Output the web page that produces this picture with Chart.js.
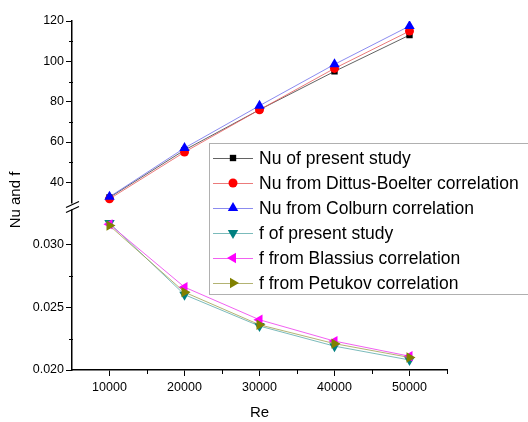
<!DOCTYPE html>
<html>
<head>
<meta charset="utf-8">
<script src="https://cdn.jsdelivr.net/npm/chart.js@4/dist/chart.umd.min.js"></script>
<style>
  html, body { margin: 0; padding: 0; background: #fff; }
  #wrap { width: 528px; height: 422px; position: relative; }
</style>
</head>
<body>
<div id="wrap"><canvas id="myChart" width="528" height="422"></canvas></div>
<script>
"use strict";

// Reynolds numbers (x axis)
const reValues = [10000, 20000, 30000, 40000, 50000];

// Nusselt number series (upper part of the axis)
const nuPresent = [32.5, 56, 76, 95, 113];
const nuDittus = [31.8, 55, 76, 96.5, 115];
const nuColburn = [32.8, 57, 78, 98.5, 117.5];

// friction factor series (lower part of the axis)
const fPresent = [0.0317, 0.0260, 0.0235, 0.0219, 0.0208];
const fBlassius = [0.0316, 0.0266, 0.0240, 0.0223, 0.0211];
const fPetukov = [0.0315, 0.0262, 0.0236, 0.0221, 0.0210];

const xTicks = [10000, 20000, 30000, 40000, 50000];
const nuTicks = [40, 60, 80, 100, 120];
const fTicks = [0.020, 0.025, 0.030];

const xMinor = [15000, 25000, 35000, 45000, 55000];
const nuMinor = [50, 70, 90, 110];
const fMinor = [0.0225, 0.0275];

const FONT = 'Liberation Sans, Arial, sans-serif';

function pts(values) {
    return values.map((v, i) => ({x: reValues[i], y: v}));
}

function series(label, values, axis, marker, lineColor, style, rotation, radius, order) {
    return {
        label: label,
        data: pts(values),
        yAxisID: axis,
        order: order,
        borderColor: lineColor,
        borderWidth: 1,
        backgroundColor: marker,
        pointBackgroundColor: marker,
        pointBorderColor: marker,
        pointBorderWidth: 0,
        pointStyle: style,
        pointRotation: rotation,
        pointRadius: radius,
        pointHoverRadius: radius,
        tension: 0
    };
}

// later series are drawn on top, as in the original plot
const datasets = [
    series('Nu of present study', nuPresent, 'yNu', '#000000', 'rgba(60,60,60,0.8)', 'rect', 0, 4.5, 6),
    series('Nu from Dittus-Boelter correlation', nuDittus, 'yNu', '#ff0000', 'rgba(230,90,90,0.8)', 'circle', 0, 4.5, 5),
    series('Nu from Colburn correlation', nuColburn, 'yNu', '#0000ff', 'rgba(110,110,235,0.8)', 'triangle', 0, 6, 4),
    series('f of present study', fPresent, 'yF', '#008080', 'rgba(90,170,170,0.8)', 'triangle', 180, 6, 3),
    series('f from Blassius correlation', fBlassius, 'yF', '#ff00ff', 'rgba(240,80,240,0.9)', 'triangle', -90, 6, 2),
    series('f from Petukov correlation', fPetukov, 'yF', '#808000', 'rgba(160,160,80,0.8)', 'triangle', 90, 6, 1)
];

// minor ticks, axis break, axis title and boxed legend
const decorPlugin = {
    id: 'decor',
    afterDraw(chart) {
        const ctx = chart.ctx;
        const area = chart.chartArea;
        const sx = chart.scales.x;
        const sNu = chart.scales.yNu;
        const sF = chart.scales.yF;

        ctx.save();
        ctx.strokeStyle = '#000';
        ctx.lineWidth = 1;
        ctx.beginPath();
        xMinor.forEach(v => {
            const px = Math.round(sx.getPixelForValue(v)) + 0.5;
            ctx.moveTo(px, area.bottom);
            ctx.lineTo(px, area.bottom + 4);
        });
        nuMinor.forEach(v => {
            const py = Math.round(sNu.getPixelForValue(v)) + 0.5;
            ctx.moveTo(area.left - 3, py);
            ctx.lineTo(area.left + 1, py);
        });
        fMinor.forEach(v => {
            const py = Math.round(sF.getPixelForValue(v)) + 0.5;
            ctx.moveTo(area.left - 3, py);
            ctx.lineTo(area.left + 1, py);
        });
        ctx.stroke();

        // axis break
        const yb = sNu.bottom;
        ctx.fillStyle = '#fff';
        ctx.fillRect(area.left - 3, yb - 2, 6, 6);
        ctx.lineWidth = 1.3;
        ctx.beginPath();
        ctx.moveTo(area.left - 6, yb + 2);
        ctx.lineTo(area.left + 7, yb - 4);
        ctx.moveTo(area.left - 6, yb + 7);
        ctx.lineTo(area.left + 7, yb + 1);
        ctx.stroke();

        // y title
        ctx.fillStyle = '#000';
        ctx.font = '15px ' + FONT;
        ctx.textAlign = 'center';
        ctx.textBaseline = 'middle';
        ctx.translate(16, 200);
        ctx.rotate(-Math.PI / 2);
        ctx.fillText('Nu and f', 0, 0);
        ctx.restore();

        // legend
        ctx.save();
        const bx = 209, by = 143, bw = 330, bh = 151;
        ctx.fillStyle = '#fff';
        ctx.fillRect(bx, by, bw, bh);
        ctx.strokeStyle = '#b0b0b0';
        ctx.lineWidth = 1;
        ctx.strokeRect(bx + 0.5, by + 0.5, bw, bh);
        ctx.font = '17.5px ' + FONT;
        ctx.textAlign = 'left';
        ctx.textBaseline = 'middle';
        chart.data.datasets.forEach((ds, i) => {
            const ry = by + 15 + i * 25;
            ctx.strokeStyle = ds.borderColor;
            ctx.lineWidth = 1;
            ctx.beginPath();
            ctx.moveTo(bx + 4, ry + 0.5);
            ctx.lineTo(bx + 44, ry + 0.5);
            ctx.stroke();
            ctx.fillStyle = ds.pointBackgroundColor;
            ctx.strokeStyle = ds.pointBorderColor;
            Chart.helpers.drawPoint(ctx, {
                pointStyle: ds.pointStyle,
                rotation: ds.pointRotation,
                radius: ds.pointRadius,
                borderWidth: 0
            }, bx + 24, ry);
            ctx.fillStyle = '#000';
            ctx.fillText(ds.label, bx + 50, ry + 1);
        });
        ctx.restore();
    }
};

const tickFont = {family: FONT, size: 12.5};

const chart = new Chart(document.getElementById('myChart'), {
    type: 'line',
    data: {datasets: datasets},
    options: {
        responsive: false,
        animation: false,
        events: [],
        layout: {padding: {top: 21, right: 81, bottom: 0, left: 0}},
        plugins: {legend: {display: false}, tooltip: {enabled: false}},
        scales: {
            x: {
                type: 'linear',
                min: 5000,
                max: 55000,
                afterBuildTicks: (s) => { s.ticks = xTicks.map(v => ({value: v})); },
                afterFit: (s) => { s.height = 52; },
                ticks: {color: '#000', font: tickFont, padding: 4, maxRotation: 0,
                    callback: (v) => String(v)},
                grid: {drawOnChartArea: false, drawTicks: true, tickLength: 6, color: '#000', tickWidth: 1},
                border: {display: true, color: '#000', width: 1.5},
                title: {display: true, text: 'Re', color: '#000', font: {family: FONT, size: 15}, padding: {top: 6, bottom: 0}}
            },
            yF: {
                type: 'linear',
                position: 'left',
                stack: 'y',
                stackWeight: 164,
                min: 0.020,
                max: 0.0331,
                afterBuildTicks: (s) => { s.ticks = fTicks.map(v => ({value: v})); },
                afterFit: (s) => { s.width = 72; },
                ticks: {color: '#000', font: tickFont, padding: 2, callback: (v) => v.toFixed(3)},
                grid: {drawOnChartArea: false, drawTicks: true, tickLength: 6, color: '#000', tickWidth: 1},
                border: {display: true, color: '#000', width: 1.5}
            },
            yNu: {
                type: 'linear',
                position: 'left',
                stack: 'y',
                stackWeight: 184,
                min: 28.5,
                max: 120,
                afterBuildTicks: (s) => { s.ticks = nuTicks.map(v => ({value: v})); },
                afterFit: (s) => { s.width = 72; },
                ticks: {color: '#000', font: tickFont, padding: 2, callback: (v) => String(v)},
                grid: {drawOnChartArea: false, drawTicks: true, tickLength: 6, color: '#000', tickWidth: 1},
                border: {display: true, color: '#000', width: 1.5}
            }
        }
    },
    plugins: [decorPlugin]
});
</script>
</body>
</html>
